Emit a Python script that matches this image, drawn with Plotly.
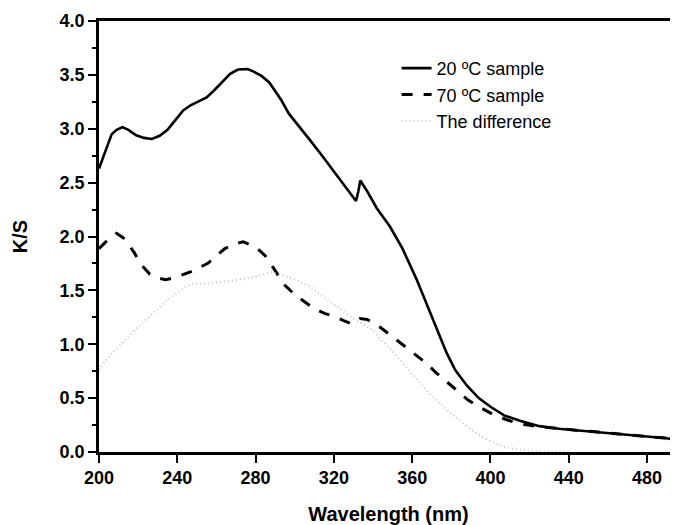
import plotly.graph_objects as go

# 20 ºC sample
x20 = [200, 203, 206.5, 209, 212, 215, 219, 223, 227, 231, 235, 239, 243, 247, 251, 255, 259, 263,
       267, 271, 276, 279, 283, 287, 290, 293, 297, 302, 308, 314, 319.7, 324, 328, 331.3, 332.5,
       333.5, 337, 342, 348.7, 355, 362.3, 370.8, 377.6, 382, 387.8, 394, 400, 407, 415, 425, 435,
       445, 455, 465, 475, 485, 490, 495.8]
y20 = [2.63, 2.78, 2.95, 2.99, 3.015, 2.99, 2.94, 2.915, 2.905, 2.935, 2.99, 3.08, 3.17, 3.22, 3.255,
       3.29, 3.36, 3.44, 3.51, 3.55, 3.555, 3.53, 3.49, 3.43, 3.35, 3.27, 3.14, 3.03, 2.89, 2.75,
       2.61, 2.50, 2.40, 2.33, 2.42, 2.52, 2.42, 2.26, 2.09, 1.89, 1.60, 1.22, 0.92, 0.76, 0.62,
       0.50, 0.42, 0.34, 0.29, 0.24, 0.215, 0.20, 0.185, 0.17, 0.155, 0.14, 0.128, 0.108]

# 70 ºC sample
x70 = [200, 204, 209, 213.3, 218, 221.8, 226, 230, 234, 238, 242, 248, 255.8, 260, 264.3, 269, 273.7,
       278, 282, 285, 288.2, 292, 295, 300, 305.2, 310, 315.5, 320, 325, 329, 333.3, 337, 343.5,
       350, 354.6, 360, 366.5, 372, 377.6, 383, 388.7, 395, 402.3, 409, 416.8, 425, 435, 445, 455,
       465, 475, 485, 490, 495.8]
y70 = [1.888, 1.96, 2.03, 1.975, 1.85, 1.733, 1.65, 1.615, 1.60, 1.615, 1.64, 1.68, 1.754, 1.82,
       1.888, 1.93, 1.95, 1.918, 1.87, 1.82, 1.733, 1.63, 1.547, 1.46, 1.392, 1.33, 1.284, 1.26,
       1.22, 1.19, 1.238, 1.23, 1.16, 1.07, 1.006, 0.93, 0.835, 0.74, 0.65, 0.565, 0.48, 0.41,
       0.34, 0.295, 0.257, 0.235, 0.215, 0.20, 0.185, 0.17, 0.155, 0.14, 0.128, 0.108]

# The difference
xdiff = [200, 203, 206.5, 211, 215, 219, 223.5, 228, 232, 236, 240.5, 244, 247.4, 251, 255.8, 262,
         269.5, 275, 279.7, 284, 287.4, 291, 296.7, 302, 306.9, 311, 315.5, 319.7, 325, 331.6, 336,
         340.1, 343.5, 348.7, 353.8, 359, 364, 369, 374.2, 379, 384.4, 389, 394.6, 400, 404.9, 410,
         415, 420, 430, 440]
ydiff = [0.76, 0.84, 0.913, 0.99, 1.067, 1.145, 1.222, 1.295, 1.361, 1.425, 1.485, 1.53, 1.563, 1.565,
         1.563, 1.575, 1.593, 1.61, 1.624, 1.65, 1.67, 1.655, 1.624, 1.585, 1.547, 1.49, 1.424, 1.377,
         1.30, 1.222, 1.175, 1.13, 1.052, 0.96, 0.851, 0.745, 0.635, 0.54, 0.449, 0.37, 0.294, 0.22,
         0.155, 0.10, 0.062, 0.035, 0.022, 0.012, 0.006, 0.003]

xticks = [200, 240, 280, 320, 360, 400, 440, 480]
yticks = [0.0, 0.5, 1.0, 1.5, 2.0, 2.5, 3.0, 3.5, 4.0]

FONT = "Arial, Liberation Sans, sans-serif"

fig = go.Figure()
fig.add_trace(go.Scatter(x=x20, y=y20, mode="lines", name="20 ºC sample", legendgroup="a",
                         line=dict(color="black", width=2.6)))
fig.add_trace(go.Scatter(x=x70, y=y70, mode="lines", name="70 ºC sample", legendgroup="b",
                         line=dict(color="black", width=3, dash="11px,11px")))
fig.add_trace(go.Scatter(x=xdiff, y=ydiff, mode="lines", name="The difference", legendgroup="c",
                         line=dict(color="#c4c4c4", width=2, dash="1px,3px")))

# page body has an 8px default margin: figure is 670x517 placed at (8, 8)
fig.update_layout(
    width=670, height=517,
    margin=dict(l=91, r=0, t=13, b=73),
    paper_bgcolor="white", plot_bgcolor="white",
    font=dict(family=FONT, color="black"),
    showlegend=True,
    legend=dict(x=0.514, y=0.933, xanchor="left", yanchor="top",
                font=dict(family=FONT, size=18, color="black"),
                bgcolor="rgba(0,0,0,0)", tracegroupgap=0, itemwidth=30),
    xaxis=dict(range=[200, 495.8], tickmode="array", tickvals=xticks,
               ticktext=[f"<b>{v}</b>" for v in xticks],
               showline=True, linecolor="black", linewidth=2.6, mirror=True,
               ticks="outside", ticklen=8, tickwidth=2, tickcolor="black",
               showgrid=False, zeroline=False,
               tickfont=dict(family=FONT, size=18, color="black"),
               title=dict(text="<b>Wavelength (nm)</b>", font=dict(family=FONT, size=20, color="black"),
                          standoff=21)),
    yaxis=dict(range=[0, 4], tickmode="array", tickvals=yticks,
               ticktext=[f"<b>{v:.1f}</b>" for v in yticks],
               showline=True, linecolor="black", linewidth=2.6,
               ticks="outside", ticklen=8, tickwidth=2, tickcolor="black",
               minor=dict(ticks="outside", ticklen=4, tickwidth=2, tickcolor="black", dtick=0.25, tick0=0),
               showgrid=False, zeroline=False,
               tickfont=dict(family=FONT, size=18, color="black"),
               title=dict(text="<b>K/S</b>", font=dict(family=FONT, size=20, color="black"),
                          standoff=27)),
)

fig.write_html("out.html")
